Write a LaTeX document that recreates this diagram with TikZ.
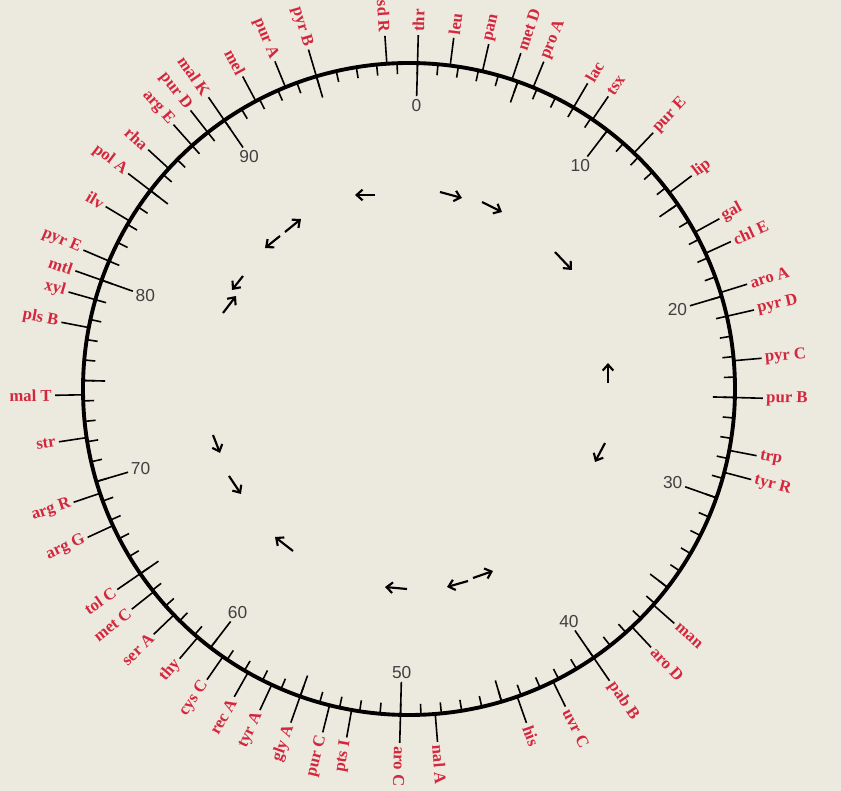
\documentclass[tikz,border=0pt]{standalone}
\usepackage{fontspec}
\setmainfont{Liberation Serif}
\newfontfamily\numfont{Liberation Sans}
\usetikzlibrary{arrows.meta}
\definecolor{paper}{RGB}{236,233,222}
\definecolor{geneRed}{RGB}{212,38,60}

\begin{document}
\begin{tikzpicture}[
    x=0.75pt, y=0.75pt,
    chromosome/.style = {line width=2.9pt},
    minorTick/.style = {line width=1.2pt},
    midTick/.style = {line width=1.2pt},
    majorTick/.style = {line width=1.2pt},
    geneLine/.style = {line width=1.2pt},
    geneLabel/.style = {text=geneRed, font=\fontsize{12.5}{14}\selectfont\bfseries, inner sep=2pt},
    minuteLabel/.style = {text=black!75, font=\numfont\fontsize{13}{15}\selectfont, inner sep=1.5pt},
    transfer/.style = {line width=1.6pt, -{Straight Barb[length=4.5pt, width=8pt]}}
]
\def\R{326}
\def\rot{1.5}

% page
\fill[paper] (-409,-402) rectangle (432,389);
\useasboundingbox (-409,-402) rectangle (432,389);

% chromosome
\draw[chromosome] (0,0) circle (\R);

% minute ticks
\foreach \m in {0,...,99}
    \draw[minorTick] ({90-3.6*\m-\rot}:\R) -- ({90-3.6*\m-\rot}:{\R-11});
\foreach \m in {5,15,...,95}
    \draw[midTick] ({90-3.6*\m-\rot}:\R) -- ({90-3.6*\m-\rot}:{\R-22});
\foreach \m in {0,10,...,90} {
    \pgfmathsetmacro\ang{mod(450-3.6*\m-\rot,360)}
    \draw[majorTick] (\ang:\R) -- (\ang:{\R-33})
        node[minuteLabel, anchor=\ang] (min\m) {\m};
}

% genes
\foreach \m/\g [count=\i] in {0/thr, 1.6/leu, 3.2/pan, 4.7/met D, 5.8/pro A,
    8.0/lac, 9.1/tsx, 11.7/pur E, 14.3/lip, 16.6/gal, 17.75/chl E,
    19.8/aro A, 21/pyr D, 23.2/pyr C, 25/pur B, 27.6/trp, 28.7/tyr R,
    36.1/man, 37.6/aro D, 40/pab B, 42.3/uvr C, 44.2/his, 48.3/nal A,
    50/aro C, 52.4/pts I, 53.5/pur C, 55/gly A, 56.5/tyr A, 57.8/rec A,
    59.25/cys C, 60.8/thy, 62.4/ser A, 63.9/met C, 65/tol C, 67.7/arg G,
    69.4/arg R, 72.2/str, 74.3/mal T, 77.6/pls B, 79/xyl, 80/mtl,
    81/pyr E, 83.2/ilv, 85/pol A, 86.4/rha, 88/arg E, 89/pur D,
    90/mal K, 91.8/mel, 93.4/pur A, 95/pyr B, 98.5/sd R} {
    \pgfmathsetmacro\ang{mod(450-3.6*\m-\rot,360)}
    \ifdim \m pt>50pt
        \pgfmathsetmacro\tr{\ang-180}\def\lblside{east}
    \else
        \let\tr\ang\def\lblside{west}
    \fi
    \draw[geneLine] (\ang:\R) -- (\ang:{\R+28})
        node[geneLabel, rotate=\tr, anchor=\lblside] (gene\i) {\g};
}

% transfer directions
\foreach \x/\y/\u/\v in {-34/194/-54/194, 31/197/53/191, 73/187/93/177,
    146/137/163/119, -124/157/-108/170, -129/153/-144/141,
    -166/113/-177/99, -186/76/-173/93, 199/6/199/26, 196/-54/186/-73,
    -196/-46/-189/-64, -180/-87/-168/-105, -116/-162/-134/-148,
    -2/-200/-24/-198, 59/-192/38/-198, 64/-189/84/-182}
    \draw[transfer] (\x,\y) -- (\u,\v);

\end{tikzpicture}
\end{document}
